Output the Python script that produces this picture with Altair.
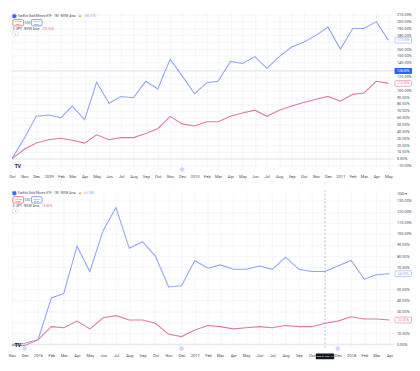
import altair as alt
import pandas as pd

BLUE = "#8fa6f6"
PINK = "#e07aa3"
GRID = "#f1f3f8"
TXT = "#4a4e5a"

# ---------------- data ----------------
top_dates = ["2008-10-01", "2008-11-01", "2008-12-01", "2009-01-01", "2009-02-01", "2009-03-01",
             "2009-04-01", "2009-05-01", "2009-06-01", "2009-07-01", "2009-08-01", "2009-09-01",
             "2009-10-01", "2009-11-01", "2009-12-01", "2010-01-01", "2010-02-01", "2010-03-01",
             "2010-04-01", "2010-05-01", "2010-06-01", "2010-07-01", "2010-08-01", "2010-09-01",
             "2010-10-01", "2010-11-01", "2010-12-01", "2011-01-01", "2011-02-01", "2011-03-01",
             "2011-04-01", "2011-05-01"]
top_gdx = [0, 30, 62, 64, 60, 77, 57, 112, 81, 91, 89, 113, 102, 145, 121, 95, 111, 113,
           142, 139, 149, 132, 149, 163, 170, 180, 192, 160, 190, 190, 200, 173]
top_spy = [0, 14, 23, 28, 30, 27, 23, 35, 28, 31, 31, 37, 44, 62, 51, 48, 54, 54,
           62, 67, 71, 62, 71, 77, 82, 87, 91, 84, 94, 96, 113, 110]

bot_dates = ["2015-11-01", "2015-12-01", "2016-01-01", "2016-02-01", "2016-03-01", "2016-04-01",
             "2016-05-01", "2016-06-01", "2016-07-01", "2016-08-01", "2016-09-01", "2016-10-01",
             "2016-11-01", "2016-12-01", "2017-01-01", "2017-02-01", "2017-03-01", "2017-04-01",
             "2017-05-01", "2017-06-01", "2017-07-01", "2017-08-01", "2017-09-01", "2017-10-01",
             "2017-11-01", "2017-12-01", "2018-01-01", "2018-02-01", "2018-03-01", "2018-04-01"]
bot_gdx = [0, 1, 4, 42, 46, 89, 66, 103, 124, 87, 93, 80, 52, 53, 76, 69, 72, 68,
           68, 71, 68, 79, 68, 66, 66, 71, 76, 59, 63, 64]
bot_spy = [-1, -1, 4, 16, 15, 21, 14, 24, 26, 22, 22, 19, 9, 7, 13, 17, 16, 14,
           15, 16, 15, 17, 16, 16, 19, 21, 25, 23, 23, 22]

series_names = ["GDX", "SPY"]
W = 392


def one_row():
    return pd.DataFrame({"k": [0]})


def txt(s, x, y, color=TXT, size=3.4, weight="normal", align="left"):
    return alt.Chart(pd.DataFrame({"t": [s]})).mark_text(
        align=align, baseline="middle", fontSize=size, color=color, fontWeight=weight, font="Roboto"
    ).encode(x=alt.value(x), y=alt.value(y), text="t:N")


def box(x1, x2, y1, y2, stroke, fill="white"):
    return alt.Chart(one_row()).mark_rect(
        fill=fill, stroke=stroke, strokeWidth=0.6, cornerRadius=1.2
    ).encode(x=alt.value(x1), x2=alt.value(x2), y=alt.value(y1), y2=alt.value(y2))


def header(gdx_val, spy_val):
    return [
        box(0.5, 4.5, 1.5, 5.5, BLUE, fill="#2962ff"),
        txt("VanEck Gold Miners ETF · 1M · NYSE Arca", 6, 3.5, size=3.2),
        alt.Chart(one_row()).mark_circle(size=5, color="#f5a623", opacity=1).encode(
            x=alt.value(70), y=alt.value(3.5)),
        txt(gdx_val, 74, 3.5, color=BLUE, size=3.2),
        box(1, 12, 7, 13.5, "#f23645"),
        txt("95.28", 6.5, 9, color="#f23645", size=2.6, align="center"),
        txt("SELL", 6.5, 11.8, color="#f23645", size=2.6, align="center"),
        txt("0.00", 16, 10.2, size=2.8, align="center"),
        box(20, 31, 7, 13.5, "#2962ff"),
        txt("95.27", 25.5, 9, color="#2962ff", size=2.6, align="center"),
        txt("BUY", 25.5, 11.8, color="#2962ff", size=2.6, align="center"),
        txt("$", 1, 16.5, size=3.2),
        txt("SPY · NYSE Arca", 4.5, 16.5, size=3.2),
        txt(spy_val, 31, 16.5, color=PINK, size=3.2),
        box(1, 6.5, 19.5, 24, "#d1d4dc"),
        txt("^", 3.75, 22.5, size=3, align="center"),
    ]


def panel(dates, gdx, spy, ydom, yvals, xdom, H, gdx_val, spy_val, markers, extra,
          cross=None, vcross=None, hide_label="false"):
    n = len(dates)
    df = pd.DataFrame({
        "date": dates + dates,
        "pct": gdx + spy,
        "sym": [series_names[0]] * n + [series_names[1]] * n,
    })
    xscale = alt.Scale(domain=xdom, nice=False)
    yscale = alt.Scale(domain=ydom, nice=False, zero=False)
    cscale = alt.Scale(domain=series_names, range=[BLUE, PINK])
    covered = [gdx[-1], spy[-1]] + ([cross] if cross is not None else [])
    hide_y = " || ".join(f"abs(datum.value - {c}) < 4.5" for c in covered)
    xaxis = alt.Axis(
        tickCount={"interval": "month", "step": 1},
        labelExpr="(" + hide_label + ") ? '' : (month(datum.value) == 0 ? timeFormat(datum.value, '%Y') : timeFormat(datum.value, '%b'))",
        labelFontSize=4.2, labelColor=TXT, labelPadding=6, ticks=False, domain=False,
        grid=True, gridColor=GRID, gridWidth=0.8, labelOverlap=False, labelFlush=False,
        labelFont="Roboto")
    yaxis = alt.Axis(
        orient="right", values=yvals,
        labelExpr="(" + hide_y + ") ? '' : format(datum.value, '.2f') + '%'",
        labelFontSize=4.0, labelColor=TXT, labelPadding=3, ticks=False, domain=False,
        labelOverlap=False, labelFlush=False,
        grid=True, gridColor=GRID, gridWidth=0.8, labelFont="Roboto")

    def Y(field=None, datum=None):
        if datum is not None:
            return alt.Y(datum=datum, type="quantitative", scale=yscale, axis=yaxis, title=None)
        return alt.Y(field, type="quantitative", scale=yscale, axis=yaxis, title=None)

    def X(field=None, datum=None):
        if datum is not None:
            return alt.X(datum=datum, type="temporal", scale=xscale, axis=xaxis, title=None)
        return alt.X(field, type="temporal", scale=xscale, axis=xaxis, title=None)

    layers = [alt.Chart(one_row()).mark_rule(color="#e3e6ee", strokeWidth=1).encode(y=Y(datum=0))]
    if cross is not None:
        layers.append(alt.Chart(one_row()).mark_rule(color="#dfe4f7", strokeWidth=1).encode(
            y=Y(datum=cross)))
    if vcross is not None:
        layers.append(alt.Chart(one_row()).mark_rule(
            color="#9598a1", strokeWidth=0.6, strokeDash=[2, 2]).encode(x=X(datum=vcross[0])))

    lines = alt.Chart(df).mark_line(strokeWidth=1.1, clip=True).encode(
        x=X("date"), y=Y("pct"),
        color=alt.Color("sym:N", scale=cscale, legend=None),
    )
    last = pd.DataFrame({"v": [gdx[-1], spy[-1]], "sym": series_names,
                         "lab": [f"{gdx[-1]:.2f}%", f"{spy[-1]:.2f}%"]})
    last_box = alt.Chart(last).mark_rect(width=17, height=6, fill="white", strokeWidth=0.6,
                                         cornerRadius=1).encode(
        x=alt.value(W + 10), y=Y("v"),
        stroke=alt.Color("sym:N", scale=cscale, legend=None))
    last_txt = alt.Chart(last).mark_text(fontSize=3.4, font="Roboto").encode(
        x=alt.value(W + 10), y=Y("v"), text="lab:N",
        color=alt.Color("sym:N", scale=cscale, legend=None))
    mk = alt.Chart(pd.DataFrame({"d": markers})).mark_point(
        shape="circle", size=14, filled=True, fill="#c5d2fb", stroke=BLUE, strokeWidth=0.6).encode(
        x=X("d"), y=alt.value(H + 1))
    tv = txt("TV", 3, H - 3, color="#131722", size=5, weight="bold")
    layers += extra + [lines, last_box, last_txt, mk, tv]
    if cross is not None:
        layers += [
            alt.Chart(one_row()).mark_rect(width=18, height=6, fill="#2962ff", cornerRadius=1).encode(
                x=alt.value(W + 10), y=Y(datum=cross)),
            alt.Chart(pd.DataFrame({"t": [f"{cross:.2f}%"]})).mark_text(
                fontSize=3.4, font="Roboto", color="white").encode(
                x=alt.value(W + 10), y=Y(datum=cross), text="t:N"),
        ]
    if vcross is not None:
        layers += [
            alt.Chart(one_row()).mark_rect(width=19, height=6, fill="#131722", cornerRadius=1).encode(
                x=X(datum=vcross[0]), y=alt.value(H + 9)),
            alt.Chart(pd.DataFrame({"t": [vcross[1]]})).mark_text(
                fontSize=2.6, font="Roboto", color="white").encode(
                x=X(datum=vcross[0]), y=alt.value(H + 9), text="t:N"),
        ]
    layers += header(gdx_val, spy_val)
    return alt.layer(*layers).properties(width=W, height=H)


top = panel(top_dates, top_gdx, top_spy, [-14, 213], list(range(-10, 220, 10)),
            [alt.DateTime(year=2008, month=10, date=1), alt.DateTime(year=2011, month=5, date=14)],
            160, "186.37%", "109.66%", ["2009-12-01"], [], cross=128)

bot_extra = [
    txt("USD ▾", W + 4, 4, size=3.8),
]
bottom = panel(bot_dates, bot_gdx, bot_spy, [-3, 140], list(range(0, 140, 10)),
               [alt.DateTime(year=2015, month=11, date=1), alt.DateTime(year=2018, month=4, date=10)],
               162, "63.18%", "18.80%", ["2015-12-01", "2016-12-01", "2017-12-01"], bot_extra,
               vcross=(alt.DateTime(year=2017, month=11, date=1), "Wed 01 Nov '17"),
               hide_label="year(datum.value) == 2017 && month(datum.value) == 10")

chart = alt.vconcat(top, bottom, spacing=10).properties(
    padding={"left": 0, "top": 0, "right": 0, "bottom": 0}
).configure_view(strokeWidth=0)

chart.save("out.html", embed_options={"renderer": "svg", "actions": False})
